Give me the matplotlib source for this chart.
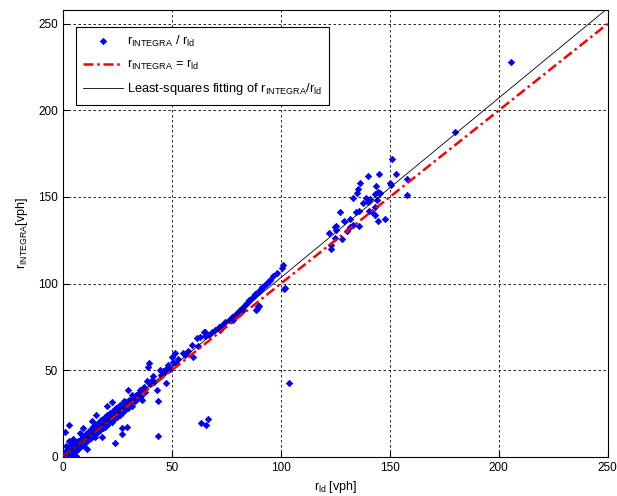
import numpy as np
import matplotlib
matplotlib.use("Agg")
import matplotlib.pyplot as plt

# r_ld / r_INTEGRA pairs (vph)
ld_low = [0.3, 0.6, 0.8, 1.0, 1.2, 1.5, 1.7, 2.0, 2.2, 2.5, 2.8, 3.0, 3.3, 3.5, 3.8, 4.0,
          4.2, 4.5, 4.8, 5.0, 5.2, 5.5, 5.8, 6.0, 6.2, 6.5, 6.8, 7.0, 7.2, 7.5, 7.8, 8.0,
          8.2, 8.5, 8.8, 9.0, 9.2, 9.5, 9.8, 10.0, 10.3, 10.6, 10.8, 11.0, 11.3, 11.6, 11.9,
          12.2, 12.5, 12.8, 13.0, 13.3, 13.6, 13.9, 14.2, 14.5, 14.8, 15.1, 15.4, 15.7, 16.0,
          16.3, 16.6, 16.9, 17.2, 17.5, 17.8, 18.0, 18.3, 18.6, 18.9, 19.2, 19.5, 19.8, 20.1,
          20.4, 20.8, 21.2, 21.6, 22.0, 22.4, 22.8, 23.2, 23.6, 23.9, 24.0, 24.4, 24.8, 25.2,
          25.6, 26.0, 26.4, 26.8, 26.9, 26.9, 27.2, 27.6, 28.0, 28.5, 29.0, 29.2, 29.5, 30.0,
          30.0, 30.5, 31.0, 31.5, 31.8, 32.3, 33.0, 33.5, 34.0, 34.8, 35.3, 35.6, 0.9, 2.9,
          1.5, 4.5, 6.0, 3.0, 11.0, 9.0, 13.5, 20.0, 22.5, 15.0,
          10.5, 12.0, 14.0, 16.0, 18.0, 20.5, 22.0, 24.5, 26.0, 28.0]
integra_low = [0.5, 1.8, 0.2, 2.6, 1.0, 3.4, 0.8, 2.2, 4.5, 1.5, 3.0, 5.6, 2.4, 0.6, 4.1, 6.8,
               3.2, 5.0, 1.9, 7.5, 4.4, 6.3, 3.5, 8.4, 5.8, 7.2, 4.6, 9.3, 6.5, 8.0, 13.7, 5.8,
               10.2, 8.9, 7.1, 11.3, 9.8, 6.5, 12.2, 10.5, 8.6, 13.0, 11.4, 9.2, 14.1, 12.0, 10.1,
               15.0, 12.9, 11.0, 16.2, 13.8, 12.1, 17.0, 14.6, 11.5, 18.1, 15.6, 13.9, 19.2, 16.5,
               14.4, 20.0, 17.6, 15.3, 21.2, 11.7, 18.7, 16.4, 22.0, 19.5, 17.2, 23.1, 20.4, 18.3,
               24.0, 21.5, 19.4, 25.2, 22.6, 20.1, 26.5, 23.8, 21.9, 7.9, 27.7, 25.0, 22.8, 28.6,
               26.2, 24.1, 29.5, 27.3, 13.3, 16.5, 25.4, 30.4, 28.5, 26.8, 31.6, 17.1, 29.8, 38.7,
               27.9, 32.7, 30.9, 35.8, 29.6, 34.0, 32.2, 35.5, 33.4, 36.6, 38.7, 34.9, 14.3, 18.5,
               6.5, 10.5, 0.5, 9.0, 4.5, 16.5, 20.5, 29.5, 31.5, 24.0,
               13.0, 14.6, 17.0, 19.0, 21.5, 23.8, 25.5, 28.0, 30.0, 32.0]

ld_mid = [36.1, 37.0, 37.8, 38.7, 39.1, 39.6, 40.0, 40.8, 41.4, 42.0, 43.0, 43.7, 43.7, 44.5,
          45.2, 46.0, 46.8, 47.2, 47.8, 48.3, 49.0, 49.9, 50.6, 51.4, 52.0, 53.0, 54.9, 56.0,
          57.5, 59.0, 59.8, 61.3, 62.0, 62.8, 64.7, 65.1, 65.1, 63.4, 65.7, 66.7]
integra_mid = [32.9, 40.2, 37.5, 43.5, 51.6, 54.1, 41.8, 44.6, 46.4, 43.0, 38.7, 32.3, 12.1, 50.2,
               47.0, 49.5, 49.2, 42.9, 51.0, 53.1, 50.8, 57.9, 55.0, 60.2, 54.0, 56.5, 60.2, 58.5,
               61.0, 64.7, 57.9, 68.5, 64.0, 69.1, 72.0, 69.5, 72.3, 19.4, 18.1, 22.1]

ld_dense = [67.0, 68.5, 70.0, 71.5, 72.0, 73.0, 74.5, 76.0, 77.4, 78.1, 78.1, 79.5, 80.5, 81.2,
            82.0, 82.7, 83.5, 84.2, 85.0, 85.6, 86.3, 87.0, 87.6, 88.2, 88.8, 89.1, 89.6, 90.0,
            88.9, 89.5, 90.2, 90.8, 91.5, 92.2, 93.0, 93.8, 94.5, 95.0, 96.5, 98.3, 100.3, 101.0,
            101.5, 101.8, 103.7]
integra_dense = [70.5, 72.0, 73.3, 74.8, 73.3, 76.2, 77.8, 79.2, 81.0, 79.1, 81.0, 82.5, 83.8, 84.9,
                 86.0, 84.9, 87.6, 88.5, 89.4, 90.3, 91.2, 92.0, 92.9, 93.8, 84.9, 85.4, 86.8, 86.8,
                 94.6, 95.4, 96.3, 97.1, 98.0, 98.8, 99.7, 100.6, 101.4, 102.2, 104.5, 106.4, 109.0,
                 110.5, 96.8, 97.4, 42.7]

ld_high = [150.9, 152.8, 145.1, 139.8, 136.1, 135.6, 134.9, 143.7, 144.6, 143.3, 145.4, 139.0,
           141.0, 132.9, 137.5, 140.1, 143.9, 150.1, 150.6, 158.1, 157.9, 143.3, 141.6, 140.5,
           143.1, 135.8, 134.3, 127.1, 144.4, 147.6, 131.7, 128.8, 133.2, 135.9, 131.7, 125.4,
           125.1, 122.3, 130.3, 128.1, 124.8, 123.2, 124.9, 123.2, 179.8, 205.8]
integra_high = [172.0, 163.0, 163.2, 162.1, 157.8, 154.9, 152.4, 156.3, 152.6, 151.8, 152.2, 149.4,
                149.1, 149.4, 146.5, 146.9, 148.3, 157.8, 156.7, 160.3, 151.3, 144.5, 141.6, 141.8,
                139.7, 142.0, 141.1, 141.3, 136.3, 137.2, 137.2, 136.0, 133.7, 133.1, 132.8, 133.1,
                130.8, 129.0, 130.1, 125.7, 126.3, 122.3, 132.9, 119.9, 187.6, 227.9]

x_ticks = [0, 50, 100, 150, 200, 250]
y_ticks = [0, 50, 100, 150, 200, 250]

x = np.array(ld_low + ld_mid + ld_dense + ld_high)
y = np.array(integra_low + integra_mid + integra_dense + integra_high)

# least-squares line through the scatter
coef = np.polyfit(x, y, 1)

plt.rcParams["font.family"] = ["Liberation Sans", "DejaVu Sans"]
plt.rcParams["mathtext.default"] = "regular"

fig = plt.figure(figsize=(6.17, 4.96), dpi=100, facecolor="white")
ax = fig.add_axes([0.102, 0.079, 0.883, 0.901])

xl = np.array([0, 250])
ax.plot(x, y, "D", color="blue", markersize=3.2, markeredgewidth=0.6, linestyle="none",
        label=r"r$_{INTEGRA}$ / r$_{ld}$", zorder=3)
ax.plot(xl, xl, color="red", linestyle="-.", linewidth=1.8, dashes=(4, 1.5, 1, 1.5),
        label=r"r$_{INTEGRA}$ = r$_{ld}$", zorder=4)
ax.plot(xl, np.polyval(coef, xl), color="black", linewidth=0.6,
        label=r"Least-squares fitting of r$_{INTEGRA}$/r$_{ld}$", zorder=4)

ax.set_xlim(0, 250)
ax.set_ylim(0, 258)
ax.set_xticks(x_ticks)
ax.set_yticks(y_ticks)
ax.tick_params(direction="in", length=4, labelsize=8.5, top=False, right=False, colors="black")
ax.grid(True, color="black", linestyle=(0, (3, 3)), linewidth=0.6)
ax.set_axisbelow(True)

ax.set_xlabel(r"r$_{ld}$ [vph]", fontsize=9, labelpad=4)
ax.set_ylabel(r"r$_{INTEGRA}$[vph]", fontsize=9, labelpad=6)

leg = ax.legend(loc="upper left", bbox_to_anchor=(0.012, 0.976), fontsize=9.3,
                fancybox=False, framealpha=1, edgecolor="black", handlelength=3.1,
                handletextpad=0.3, labelspacing=0.7, borderpad=0.55)
leg.get_frame().set_linewidth(0.8)

fig.savefig("out.png", dpi=100, facecolor="white")
